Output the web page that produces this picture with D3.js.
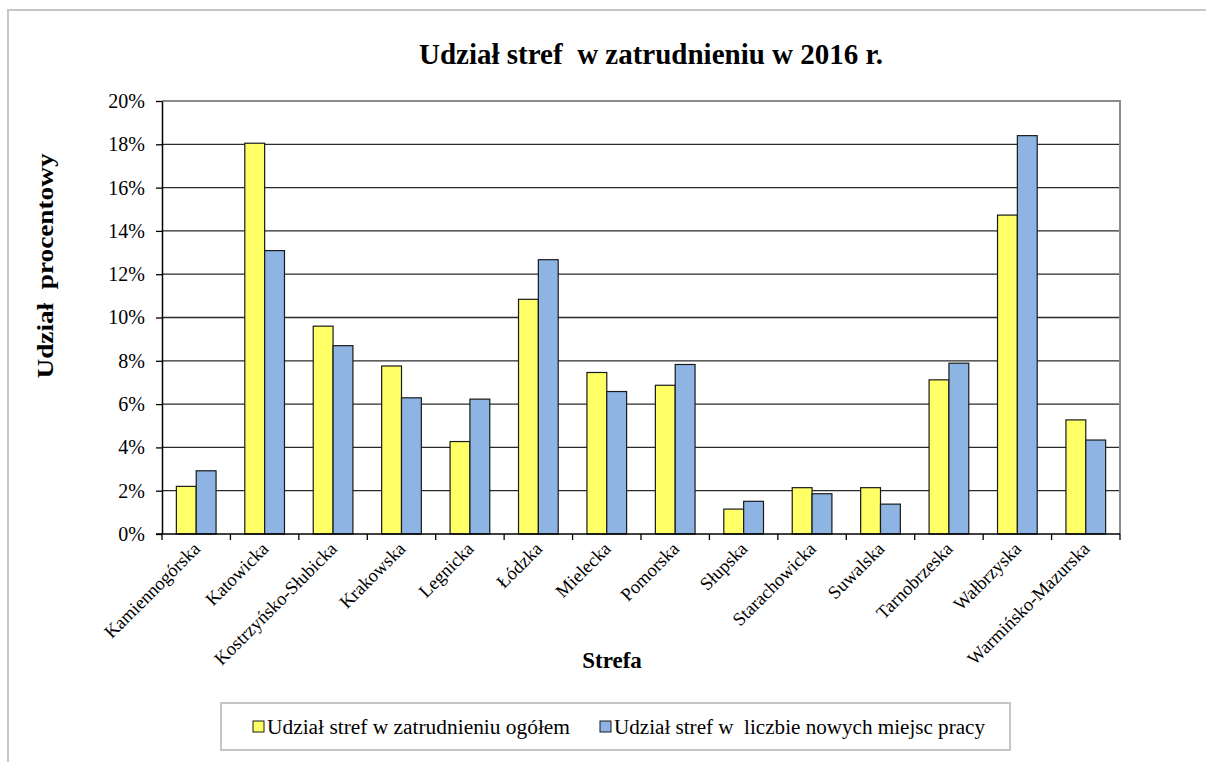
<!DOCTYPE html>
<meta charset="utf-8">
<script src="https://d3js.org/d3.v7.min.js"></script>
<html>
<style>
body { margin: 0; background: #fff; }
text { font-family: "Liberation Serif", "Times New Roman", serif; fill: #000; }
</style>
<body>
<svg id="chart" width="1206" height="762"></svg>
<script>

// categories and series (shares, %)
var strefy = ["Kamiennogórska", "Katowicka", "Kostrzyńsko-Słubicka", "Krakowska", "Legnicka",
  "Łódzka", "Mielecka", "Pomorska", "Słupska", "Starachowicka", "Suwalska",
  "Tarnobrzeska", "Wałbrzyska", "Warmińsko-Mazurska"];
var ogolem = [2.2, 18.05, 9.6, 7.76, 4.27, 10.84, 7.46, 6.87, 1.15, 2.14, 2.14, 7.12, 14.73, 5.27];
var nowe = [2.92, 13.09, 8.7, 6.29, 6.23, 12.67, 6.58, 7.83, 1.51, 1.86, 1.38, 7.89, 18.4, 4.34];
var seriesNames = ["Udział stref w zatrudnieniu ogółem", "Udział stref w  liczbie nowych miejsc pracy"];
var yTicks = [0, 2, 4, 6, 8, 10, 12, 14, 16, 18, 20];

var colors = ["#ffff66", "#8eb4e3"];

var svg = d3.select("#chart");
var margin = {left: 162, right: 86, top: 101, bottom: 228};
var W = 1206, H = 762;

// outer chart border (cut off at right/bottom)
svg.append("rect")
  .attr("x", 8).attr("y", 10)
  .attr("width", 1300).attr("height", 900)
  .attr("fill", "none").attr("stroke", "#c6c6c6").attr("stroke-width", 2);

var x = d3.scaleBand()
  .domain(strefy)
  .range([margin.left, W - margin.right]);

var xSub = d3.scaleBand()
  .domain([0, 1])
  .range([x.bandwidth() * 0.21, x.bandwidth() * 0.79]);

var y = d3.scaleLinear()
  .domain([0, 20])
  .range([H - margin.bottom, margin.top]);

// gridlines
svg.append("g")
  .selectAll("line")
  .data(yTicks.slice(1, -1))
  .enter().append("line")
    .attr("x1", margin.left).attr("x2", W - margin.right)
    .attr("y1", function(d) { return y(d); })
    .attr("y2", function(d) { return y(d); })
    .attr("stroke", "#2a2a2a").attr("stroke-width", 1.3);

// plot area border top/right
svg.append("path")
  .attr("d", "M" + margin.left + "," + y(20) + "H" + (W - margin.right) + "V" + y(0))
  .attr("fill", "none").attr("stroke", "#8c8c8c").attr("stroke-width", 2);

// bars
var rows = strefy.map(function(s, i) { return {name: s, vals: [ogolem[i], nowe[i]]}; });
var groups = svg.append("g")
  .selectAll("g")
  .data(rows)
  .enter().append("g")
    .attr("transform", function(d) { return "translate(" + x(d.name) + ",0)"; });

groups.selectAll("rect")
  .data(function(d) { return d.vals; })
  .enter().append("rect")
    .attr("x", function(d, i) { return xSub(i); })
    .attr("width", xSub.bandwidth())
    .attr("y", function(d) { return y(d); })
    .attr("height", function(d) { return y(0) - y(d); })
    .attr("fill", function(d, i) { return colors[i]; })
    .attr("stroke", "#1a1a1a").attr("stroke-width", 1.2);

// y axis
var yAxis = svg.append("g")
  .attr("transform", "translate(" + margin.left + ",0)")
  .call(d3.axisLeft(y).tickValues(yTicks).tickSize(6).tickSizeOuter(0)
    .tickFormat(function(d) { return d + "%"; }));
yAxis.select(".domain").attr("stroke", "#000").attr("stroke-width", 1.5);
yAxis.selectAll(".tick line").attr("stroke", "#000").attr("stroke-width", 1.3);
yAxis.selectAll("text")
  .attr("x", -17)
  .style("font-size", "20px");

// x axis line + ticks at category boundaries
var xg = svg.append("g");
xg.append("line")
  .attr("x1", margin.left - 6).attr("x2", W - margin.right)
  .attr("y1", y(0)).attr("y2", y(0))
  .attr("stroke", "#000").attr("stroke-width", 1.5);
xg.selectAll("line.tk")
  .data(strefy.concat(["end"]))
  .enter().append("line")
    .attr("class", "tk")
    .attr("x1", function(d) { return d === "end" ? W - margin.right : x(d); })
    .attr("x2", function(d) { return d === "end" ? W - margin.right : x(d); })
    .attr("y1", y(0)).attr("y2", y(0) + 6)
    .attr("stroke", "#000").attr("stroke-width", 1.3);

xg.selectAll("text")
  .data(strefy)
  .enter().append("text")
    .attr("transform", function(d) {
      return "translate(" + (x(d) + x.bandwidth() / 2 + 5) + "," + (y(0) + 16) + ") rotate(-45)";
    })
    .attr("text-anchor", "end")
    .style("font-size", "18.5px")
    .text(function(d) { return d; });

// titles
svg.append("text")
  .attr("x", 651).attr("y", 64)
  .attr("text-anchor", "middle")
  .style("font-size", "29px").style("font-weight", "bold")
  .style("white-space", "pre")
  .text("Udział stref  w zatrudnieniu w 2016 r.");

svg.append("text")
  .attr("transform", "translate(53,266) rotate(-90)")
  .attr("text-anchor", "middle")
  .attr("textLength", 225).attr("lengthAdjust", "spacingAndGlyphs")
  .style("font-size", "23px").style("font-weight", "bold")
  .style("white-space", "pre")
  .text("Udział  procentowy");

svg.append("text")
  .attr("x", 612).attr("y", 668)
  .attr("text-anchor", "middle")
  .style("font-size", "23px").style("font-weight", "bold")
  .text("Strefa");

// legend
var lg = svg.append("g");
lg.append("rect")
  .attr("x", 221).attr("y", 703).attr("width", 789).attr("height", 47)
  .attr("fill", "#fff").attr("stroke", "#c6c6c6").attr("stroke-width", 2);
var lx = [253, 600];
var lw = [303, 371];
seriesNames.forEach(function(n, i) {
  lg.append("rect")
    .attr("x", lx[i]).attr("y", 721).attr("width", 11).attr("height", 11)
    .attr("fill", colors[i]).attr("stroke", "#1a1a1a").attr("stroke-width", 1);
  lg.append("text")
    .attr("x", lx[i] + 14).attr("y", 734)
    .attr("textLength", lw[i]).attr("lengthAdjust", "spacingAndGlyphs")
    .style("font-size", "20px")
    .style("white-space", "pre")
    .text(n);
});

</script>
</body>
</html>
